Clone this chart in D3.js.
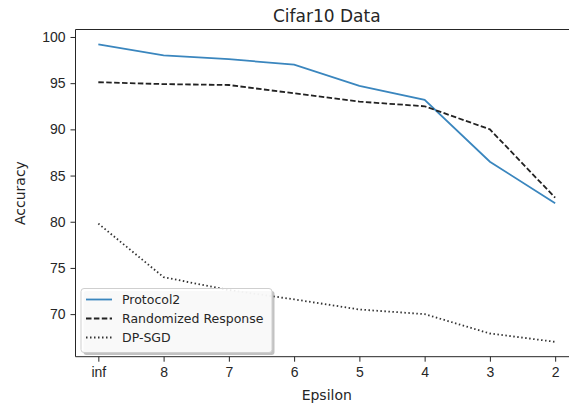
<!DOCTYPE html>
<html>
<head>
<meta charset="utf-8">
<script src="https://cdn.jsdelivr.net/npm/d3@7"></script>
<style>
  body { margin: 0; background: #fff; }
  svg { display: block; font-family: "DejaVu Sans", sans-serif; }
  .axis text { font-size: 14px; fill: #262626; }
  .axis path, .axis line { stroke: #262626; }
</style>
</head>
<body>
<svg width="569" height="407"></svg>
<script>
const epsilons = ['inf', '8', '7', '6', '5', '4', '3', '2'];
const protocol2 = [99.2, 98.0, 97.6, 97.0, 94.7, 93.2, 86.5, 82.0];
const randomized = [95.1, 94.9, 94.8, 93.9, 93.0, 92.5, 90.0, 82.6];
const dpsgd = [79.8, 74.0, 72.6, 71.6, 70.5, 70.0, 67.9, 67.0];
const yTicks = [70, 75, 80, 85, 90, 95, 100];

const series = [
    {name: 'Protocol2', values: protocol2, color: '#3a86be', dash: null},
    {name: 'Randomized Response', values: randomized, color: '#222', dash: '5.5,2.4'},
    {name: 'DP-SGD', values: dpsgd, color: '#333', dash: '1.5,2.5'}
];

const svg = d3.select('svg');
const plotLeft = 75.5, plotRight = 578, plotTop = 29.5, plotBottom = 356.7;

// matplotlib style 5% margins
const xPad = (plotRight - plotLeft) / 22;
const xScale = d3.scalePoint()
    .domain(epsilons)
    .range([plotLeft + xPad, plotRight - xPad]);

const allVals = protocol2.concat(randomized, dpsgd);
const lo = d3.min(allVals), hi = d3.max(allVals);
const m = (hi - lo) * 0.05;
const yScale = d3.scaleLinear()
    .domain([lo - m, hi + m])
    .range([plotBottom, plotTop]);

const line = d3.line()
    .x((d, i) => xScale(epsilons[i]))
    .y(d => yScale(d));

series.forEach(s => {
    svg.append('path')
        .attr('d', line(s.values))
        .attr('fill', 'none')
        .attr('stroke', s.color)
        .attr('stroke-width', 1.8)
        .attr('stroke-dasharray', s.dash);
});

// axes
const xAxis = svg.append('g')
    .attr('class', 'axis')
    .attr('transform', `translate(0, ${plotBottom})`)
    .call(d3.axisBottom(xScale).tickSize(5).tickPadding(5));
xAxis.select('.domain').remove();

const yAxis = svg.append('g')
    .attr('class', 'axis')
    .attr('transform', `translate(${plotLeft}, 0)`)
    .call(d3.axisLeft(yScale).tickValues(yTicks).tickSize(5).tickPadding(5));
yAxis.select('.domain').remove();

// spines
svg.append('line').attr('x1', plotLeft).attr('x2', plotLeft).attr('y1', plotTop).attr('y2', plotBottom)
    .attr('stroke', '#262626').attr('stroke-width', 1);
svg.append('line').attr('x1', plotLeft).attr('x2', plotRight).attr('y1', plotBottom).attr('y2', plotBottom)
    .attr('stroke', '#262626').attr('stroke-width', 1);
svg.append('line').attr('x1', plotLeft).attr('x2', plotRight).attr('y1', plotTop).attr('y2', plotTop)
    .attr('stroke', '#262626').attr('stroke-width', 1);

// titles
svg.append('text')
    .attr('x', (plotLeft + plotRight) / 2)
    .attr('y', 22)
    .attr('text-anchor', 'middle')
    .attr('font-size', 17)
    .attr('fill', '#262626')
    .text('Cifar10 Data');

svg.append('text')
    .attr('x', (plotLeft + plotRight) / 2)
    .attr('y', 400)
    .attr('text-anchor', 'middle')
    .attr('font-size', 14)
    .attr('fill', '#262626')
    .text('Epsilon');

svg.append('text')
    .attr('transform', `translate(25, ${(plotTop + plotBottom) / 2}) rotate(-90)`)
    .attr('text-anchor', 'middle')
    .attr('font-size', 14)
    .attr('fill', '#262626')
    .text('Accuracy');

// legend
const lx = 81, ly = 288.5, lw = 191, lh = 64;
svg.append('rect')
    .attr('x', lx + 2.5).attr('y', ly + 2.5)
    .attr('width', lw).attr('height', lh).attr('rx', 3)
    .attr('fill', '#999').attr('opacity', 0.6);
svg.append('rect')
    .attr('x', lx).attr('y', ly)
    .attr('width', lw).attr('height', lh).attr('rx', 3)
    .attr('fill', 'rgba(255,255,255,0.9)')
    .attr('stroke', '#cfcfcf');

const legendItems = svg.selectAll('.legend-item')
    .data(series)
    .enter()
    .append('g')
    .attr('class', 'legend-item')
    .attr('transform', (d, i) => `translate(${lx}, ${ly + 11 + i * 19})`);

legendItems.append('line')
    .attr('x1', 5).attr('x2', 31)
    .attr('stroke', d => d.color)
    .attr('stroke-width', 1.8)
    .attr('stroke-dasharray', d => d.dash);

legendItems.append('text')
    .attr('x', 41)
    .attr('dy', '0.35em')
    .attr('font-size', 12.5)
    .attr('fill', '#262626')
    .text(d => d.name);
</script>
</body>
</html>
